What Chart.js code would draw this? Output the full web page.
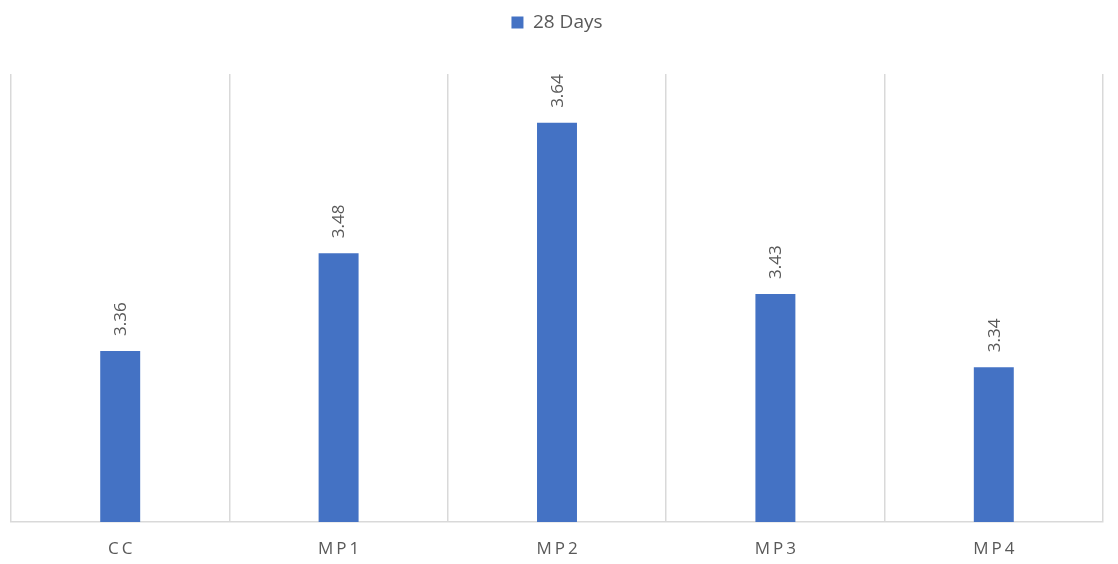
<!DOCTYPE html>
<html>
<head>
    <meta charset="UTF-8">
    <title>28 Days</title>
    <script src="https://cdn.jsdelivr.net/npm/chart.js"></script>
    <style>
        html, body {
            margin: 0;
            padding: 0;
            background: #ffffff;
        }

        .chart-container {
            position: relative;
            width: 1118px;
            height: 564px;
        }
    </style>
</head>
<body>
<div class="chart-container">
    <canvas id="daysChart"></canvas>
</div>

<script>
    const categories = ['CC', 'MP1', 'MP2', 'MP3', 'MP4'];
    const seriesName = '28 Days';
    const values = [3.36, 3.48, 3.64, 3.43, 3.34];

    const textColor = '#595959';
    const gridColor = '#d9d9d9';
    const barColor = '#4472c4';

    // make the legend box a fixed height so the plot starts lower
    const legendHeight = {
        id: 'legendHeight',
        afterInit(chart) {
            const legend = chart.legend;
            const fit = legend.fit;
            legend.fit = function () {
                fit.call(this);
                this.height = 74;
            };
        }
    };

    // value labels, rotated, above each bar
    const valueLabels = {
        id: 'valueLabels',
        afterDatasetsDraw(chart) {
            const ctx = chart.ctx;
            const meta = chart.getDatasetMeta(0);
            ctx.save();
            ctx.fillStyle = textColor;
            ctx.font = '17px "Open Sans", sans-serif';
            ctx.textAlign = 'left';
            ctx.textBaseline = 'middle';
            meta.data.forEach((bar, i) => {
                ctx.save();
                ctx.translate(bar.x + 1, bar.y - 15);
                ctx.rotate(-Math.PI / 2);
                ctx.fillText(values[i].toFixed(2), 0, 0);
                ctx.restore();
            });
            ctx.restore();
        }
    };

    // category labels drawn with letter spacing
    const spacedTicks = {
        id: 'spacedTicks',
        afterDraw(chart) {
            const ctx = chart.ctx;
            const xScale = chart.scales.x;
            ctx.save();
            ctx.fillStyle = textColor;
            ctx.font = '17px "Open Sans", sans-serif';
            ctx.letterSpacing = '3px';
            ctx.textAlign = 'center';
            ctx.textBaseline = 'middle';
            categories.forEach((label, i) => {
                ctx.fillText(label, xScale.getPixelForValue(i) + 1.5, xScale.bottom + 27);
            });
            ctx.restore();
        }
    };

    const ctx = document.getElementById('daysChart').getContext('2d');
    new Chart(ctx, {
        type: 'bar',
        data: {
            labels: categories,
            datasets: [{
                label: seriesName,
                data: values,
                backgroundColor: barColor,
                borderWidth: 0,
                categoryPercentage: 1,
                barPercentage: 0.183
            }]
        },
        options: {
            responsive: true,
            maintainAspectRatio: false,
            animation: false,
            layout: {
                padding: { left: 11, right: 15, top: 0, bottom: 42 }
            },
            scales: {
                x: {
                    offset: true,
                    grid: {
                        offset: true,
                        color: gridColor,
                        lineWidth: 1.5,
                        drawTicks: false
                    },
                    border: { display: true, color: gridColor, width: 1.5 },
                    ticks: { display: false }
                },
                y: {
                    display: false,
                    min: 3.15,
                    max: 3.7
                }
            },
            plugins: {
                legend: {
                    position: 'top',
                    labels: {
                        color: textColor,
                        font: { family: '"Open Sans", sans-serif', size: 19 },
                        boxWidth: 12,
                        boxHeight: 12,
                        padding: 13
                    }
                },
                tooltip: { enabled: false }
            }
        },
        plugins: [legendHeight, valueLabels, spacedTicks]
    });
</script>
</body>
</html>
